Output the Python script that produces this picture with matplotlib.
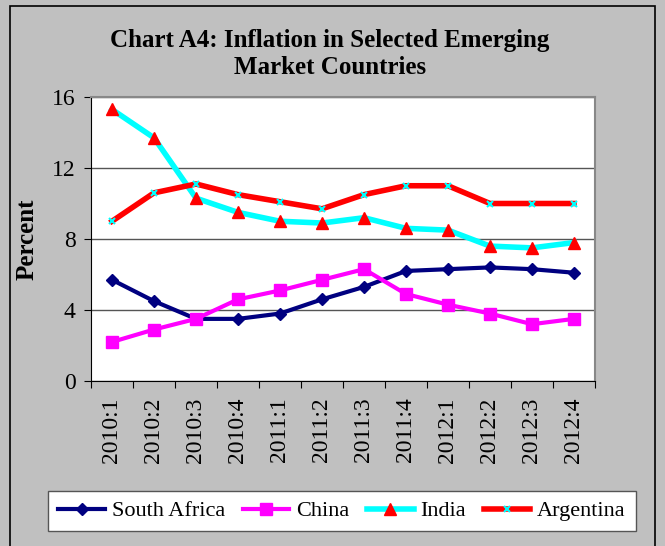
import matplotlib
matplotlib.use("Agg")
import matplotlib.pyplot as plt
from matplotlib.patches import Rectangle

# Quarterly inflation, percent
quarters = ["2010:1", "2010:2", "2010:3", "2010:4", "2011:1", "2011:2",
            "2011:3", "2011:4", "2012:1", "2012:2", "2012:3", "2012:4"]
south_africa = [5.7, 4.5, 3.5, 3.5, 3.8, 4.6, 5.3, 6.2, 6.3, 6.4, 6.3, 6.1]
china = [2.2, 2.9, 3.5, 4.6, 5.1, 5.7, 6.3, 4.9, 4.3, 3.8, 3.2, 3.5]
india = [15.3, 13.7, 10.3, 9.5, 9.0, 8.9, 9.2, 8.6, 8.5, 7.6, 7.5, 7.8]
argentina = [9.0, 10.6, 11.1, 10.5, 10.1, 9.7, 10.5, 11.0, 11.0, 10.0, 10.0, 10.0]
y_ticks = [0, 4, 8, 12, 16]

plt.rcParams['font.family'] = ['Liberation Serif', 'DejaVu Serif']

fig = plt.figure(figsize=(6.65, 5.46), dpi=100)
fig.patch.set_facecolor('#C0C0C0')
fig.patches.append(Rectangle((10 / 665, -0.01), 645 / 665, 1 - 6 / 546 + 0.01,
                             transform=fig.transFigure, fill=False,
                             edgecolor='black', linewidth=1.2))

ax = fig.add_axes([91 / 665, 1 - 381 / 546, 504 / 665, 284 / 546])
ax.set_facecolor('white')

x = list(range(len(quarters)))
ax.plot(x, south_africa, color='#000080', lw=3, marker='D', ms=6,
        label='South Africa')
ax.plot(x, china, color='#FF00FF', lw=3, marker='s', ms=8, label='China')
ax.plot(x, india, color='#00FFFF', lw=4, marker='^', ms=9,
        markerfacecolor='red', markeredgecolor='red', label='India')
ax.plot(x, argentina, color='red', lw=4, marker='x', ms=5, mew=1.5,
        markeredgecolor='#00FFFF', label='Argentina')

ax.set_xlim(-0.5, len(quarters) - 0.5)
ax.set_ylim(0, 16)
ax.set_yticks(y_ticks)
ax.set_yticklabels([str(v) for v in y_ticks], fontsize=17)
ax.yaxis.grid(True, color='#555555', lw=1)
ax.set_axisbelow(True)

ax.set_xticks([i + 0.5 for i in range(-1, len(quarters))])
ax.set_xticklabels([])
ax.set_xticks(x, minor=True)
ax.set_xticklabels(quarters, minor=True, rotation=90, fontsize=17)
ax.tick_params(axis='x', which='minor', length=0, pad=12)
ax.tick_params(axis='x', which='major', length=5, direction='out')
ax.tick_params(axis='y', length=5, direction='out', pad=6)

for side in ['top', 'right']:
    ax.spines[side].set_color('#888888')
    ax.spines[side].set_linewidth(1.5)
for side in ['left', 'bottom']:
    ax.spines[side].set_color('black')

ax.set_ylabel('Percent', fontsize=18, fontweight='bold', labelpad=10)

fig.text(330 / 665, 1 - 54 / 546,
         'Chart A4: Inflation in Selected Emerging\nMarket Countries',
         ha='center', va='center', fontsize=18, fontweight='bold',
         linespacing=1.2)

leg = fig.legend(loc='center', bbox_to_anchor=(342 / 665, 1 - 511 / 546),
                 ncol=4, fontsize=16, frameon=True, fancybox=False,
                 handlelength=2.1, columnspacing=0.8, handletextpad=0.3,
                 borderpad=0.45)
leg.get_frame().set_edgecolor('#555555')
leg.get_frame().set_facecolor('white')
leg.get_frame().set_alpha(1)

fig.savefig('out.png', dpi=100, facecolor=fig.get_facecolor())
